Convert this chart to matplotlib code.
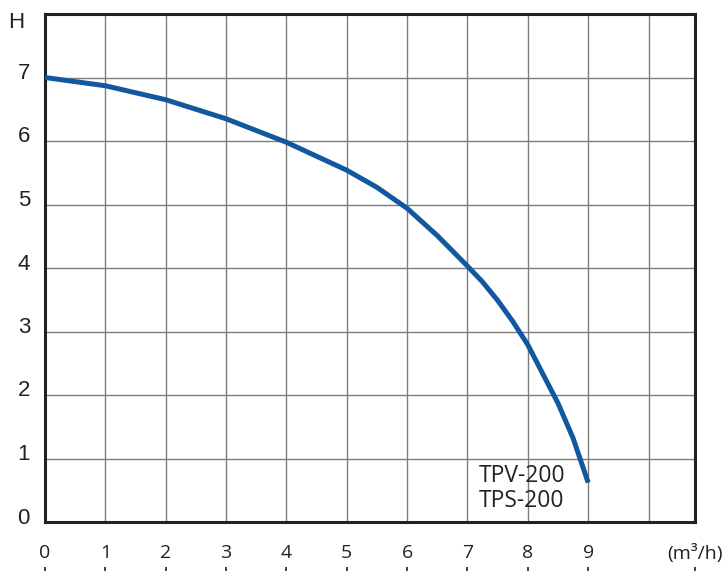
import matplotlib
matplotlib.use("Agg")
import matplotlib.pyplot as plt
import matplotlib.transforms as mtransforms

# Pump curve (flow m3/h vs head H)
flow = [0, 1, 2, 3, 4, 5, 5.5, 6, 6.5, 7, 7.25, 7.5, 7.75, 8, 8.25, 8.5, 8.75, 9]
head = [7.0, 6.87, 6.65, 6.35, 5.98, 5.54, 5.27, 4.94, 4.51, 4.03, 3.78, 3.49, 3.16,
        2.79, 2.33, 1.87, 1.32, 0.62]

x_ticks = [0, 1, 2, 3, 4, 5, 6, 7, 8, 9, 10.77]
x_labels = ["0", "1", "2", "3", "4", "5", "6", "7", "8", "9", "(m³/h)"]
y_ticks = [0, 1, 2, 3, 4, 5, 6, 7]
y_labels = ["0", "1", "2", "3", "4", "5", "6", "7"]
models = ["TPV-200", "TPS-200"]

plt.rcParams["font.family"] = ["Open Sans", "DejaVu Sans"]

fig = plt.figure(figsize=(7.23, 5.71), dpi=100)
ax = fig.add_axes([45 / 723, 49 / 571, 650 / 723, 508 / 571])

ax.set_xlim(0, 10.77)
ax.set_ylim(0, 8)

# grid
for gx in range(1, 11):
    ax.axvline(gx, color="#7d7d7d", linewidth=1.0, zorder=1)
for gy in range(1, 8):
    ax.axhline(gy, color="#7d7d7d", linewidth=1.0, zorder=1)

ax.plot(flow, head, color="#11589f", linewidth=3.6, solid_capstyle="butt", zorder=3)

ax.text(7.19, 0.63, models[0], fontsize=16.5, color="#222222")
ax.text(7.19, 0.235, models[1], fontsize=16.5, color="#222222")

for s in ax.spines.values():
    s.set_color("#1c2322")
    s.set_linewidth(2.2)

# y labels in a grotesque face, nudged up a little
ax.set_yticks(y_ticks)
ax.set_yticklabels(y_labels, fontsize=16, color="#222222", family="Liberation Sans")
ax.tick_params(axis="y", length=0, pad=10.8)
shift = mtransforms.ScaledTranslation(0, 6.5 / 100, fig.dpi_scale_trans)
for lab in ax.get_yticklabels():
    lab.set_transform(lab.get_transform() + shift)

ax.text(24 / 723, (571 - 22.5) / 571, "H", transform=fig.transFigure, ha="right",
        va="center", fontsize=16, color="#222222", family="Liberation Sans")

ax.set_xticks(x_ticks)
ax.set_xticklabels(x_labels, fontsize=14, color="#222222")
ax.tick_params(axis="x", length=0, pad=16)

# tick marks sit below the labels
sec = ax.secondary_xaxis(-0.0886)
sec.set_xticks(x_ticks)
sec.set_xticklabels([])
sec.tick_params(length=6, width=1.2, color="#222222")
sec.spines["bottom"].set_visible(False)

fig.savefig("out.png", dpi=100)
